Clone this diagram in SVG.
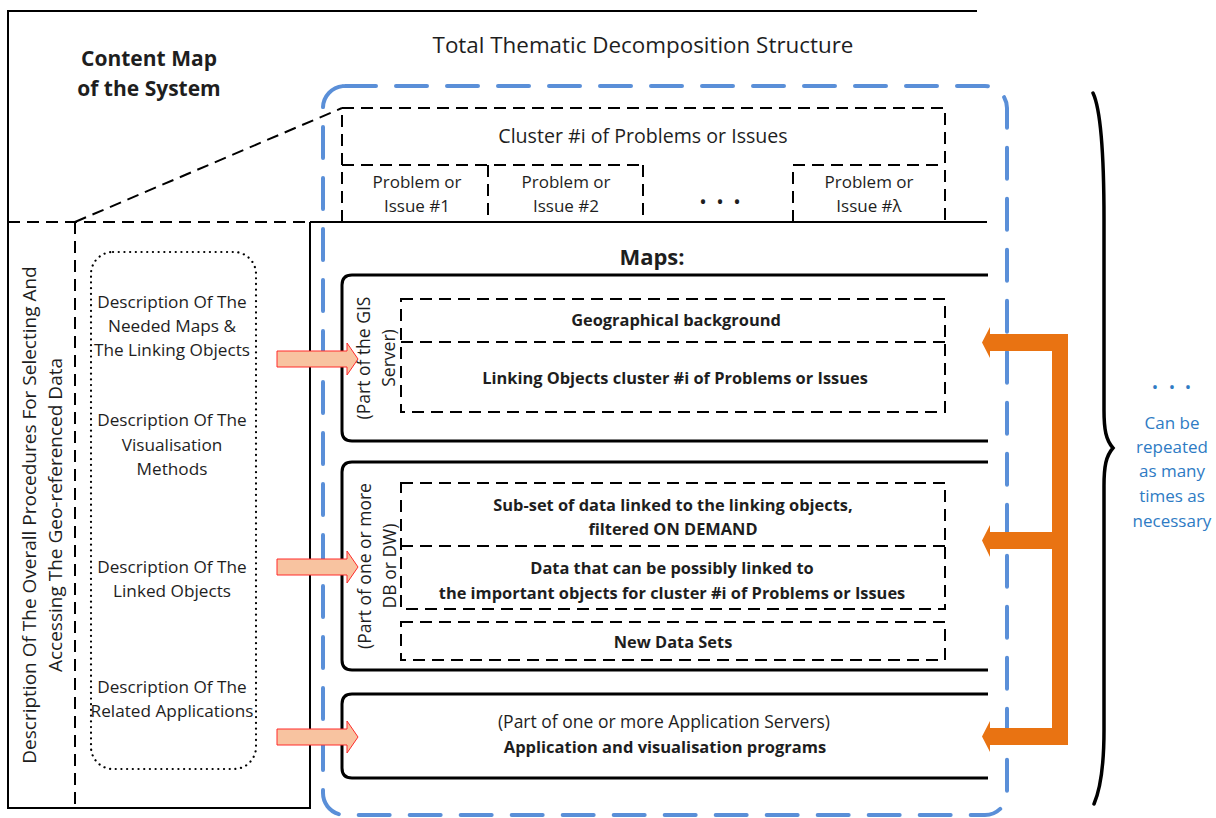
<svg xmlns="http://www.w3.org/2000/svg" width="1216" height="818" viewBox="0 0 1216 818">
  <style>
    .txt { font-family: "Open Sans", "Liberation Sans", sans-serif; fill: #1e1e1e; }
    .c { text-anchor: middle; }
    .b { font-weight: bold; }
    .solid { fill: none; stroke: #000; stroke-width: 2; }
    .box { fill: none; stroke: #000; stroke-width: 3; }
    .dash { fill: none; stroke: #000; stroke-width: 2; stroke-dasharray: 12 7; }
    .dot { fill: none; stroke: #000; stroke-width: 2.2; stroke-linecap: round; stroke-dasharray: 0.1 5.6; }
    .blue { fill: none; stroke: #5A8FD8; stroke-width: 4; stroke-linecap: round; stroke-dasharray: 31 20; }
    .pink { fill: #F8C3A0; stroke: #FF2A2A; stroke-width: 1; }
    .note { font-family: "Open Sans", "Liberation Sans", sans-serif; fill: #2E7BC4; text-anchor: middle; font-size: 17px; }
  </style>
  <defs>
    <path id="pinkArrow" d="M0 -8 L70 -8 L70 -16 L81 0 L70 16 L70 8 L0 8 Z"/>
  </defs>

  <rect width="1216" height="818" fill="#fff"/>

  <!-- Outer frame of the content map -->
  <g id="frame">
    <path class="solid" d="M977 11 L8 11 L8 808 L310 808 L310 222"/>
    <path class="dash" d="M8 222 L310 222"/>
    <path class="solid" d="M310 222 L987 222"/>
    <path class="dash" d="M75 222 L75 808"/>
    <path class="dash" d="M75 222 L342 108"/>
  </g>

  <!-- Headings -->
  <g id="titles">
    <text class="txt c" x="643" y="53" font-size="22.4">Total Thematic Decomposition Structure</text>
    <text class="txt c b" x="149" y="66" font-size="21">Content Map</text>
    <text class="txt c b" x="149" y="96" font-size="21">of the System</text>
  </g>

  <!-- Left: overall procedure description -->
  <g id="procedures">
    <text class="txt c" font-size="19" transform="translate(36 515) rotate(-90)">Description Of The Overall Procedures For Selecting And</text>
    <text class="txt c" font-size="19" transform="translate(62 515) rotate(-90)">Accessing The Geo-referenced Data</text>
  </g>

  <!-- Dotted description list -->
  <g id="descriptions">
    <rect class="dot" x="91" y="252" width="165" height="517" rx="22"/>
    <g class="txt c" font-size="17.2">
      <text x="172" y="308">Description Of The</text>
      <text x="172" y="332">Needed Maps &amp;</text>
      <text x="172" y="356">The Linking Objects</text>
      <text x="172" y="426">Description Of The</text>
      <text x="172" y="451">Visualisation</text>
      <text x="172" y="475">Methods</text>
      <text x="172" y="573">Description Of The</text>
      <text x="172" y="597">Linked Objects</text>
      <text x="172" y="693">Description Of The</text>
      <text x="172" y="717">Related Applications</text>
    </g>
  </g>

  <!-- Thematic decomposition container -->
  <g id="decomposition">
    <rect class="blue" x="323" y="86" width="684" height="729" rx="22"/>
  </g>

  <!-- Cluster of problems or issues -->
  <g id="cluster">
    <path class="dash" d="M342 222 L342 108 L945 108 L945 222"/>
    <path class="dash" d="M342 165 L643 165 M488 165 L488 222 M643 165 L643 222"/>
    <path class="dash" d="M793 222 L793 165 L945 165"/>
    <text class="txt c" x="643" y="143" font-size="19.6">Cluster #i of Problems or Issues</text>
    <g class="txt c" font-size="17">
      <text x="417" y="188">Problem or</text>
      <text x="417" y="212">Issue #1</text>
      <text x="566" y="188">Problem or</text>
      <text x="566" y="212">Issue #2</text>
      <text x="869" y="188">Problem or</text>
      <text x="869" y="212">Issue #λ</text>
      <text y="209" font-size="20"><tspan x="703">•</tspan><tspan x="720">•</tspan><tspan x="737">•</tspan></text>
    </g>
  </g>

  <text class="txt c b" x="652" y="265" font-size="22">Maps:</text>

  <!-- GIS server block -->
  <g id="gis">
    <path class="box" d="M988 275 L352 275 Q342 275 342 285 L342 431 Q342 441 352 441 L988 441"/>
    <path class="dash" d="M401 299 L945 299 L945 412 L401 412 Z M401 342 L945 342"/>
    <text class="txt c" font-size="17.5" transform="translate(370 358) rotate(-90)">(Part of the GIS</text>
    <text class="txt c" font-size="17.5" transform="translate(395 358) rotate(-90)">Server)</text>
    <text class="txt c b" x="676" y="326" font-size="16.4">Geographical background</text>
    <text class="txt c b" x="675" y="384" font-size="16.4">Linking Objects cluster #i of Problems or Issues</text>
  </g>

  <!-- Database / data warehouse block -->
  <g id="data">
    <path class="box" d="M988 462 L352 462 Q342 462 342 472 L342 660 Q342 670 352 670 L988 670"/>
    <path class="dash" d="M401 483 L945 483 L945 609 L401 609 Z M401 546 L945 546"/>
    <rect class="dash" x="401" y="622" width="544" height="38"/>
    <text class="txt c" font-size="17.5" transform="translate(371 566) rotate(-90)">(Part of one or more</text>
    <text class="txt c" font-size="17.5" transform="translate(396 566) rotate(-90)">DB or DW)</text>
    <g class="txt c b" font-size="16.4">
      <text x="673" y="511">Sub-set of data linked to the linking objects,</text>
      <text x="673" y="535">filtered ON DEMAND</text>
      <text x="672" y="574">Data that can be possibly linked to</text>
      <text x="672" y="599">the important objects for cluster #i of Problems or Issues</text>
      <text x="673" y="648">New Data Sets</text>
    </g>
  </g>

  <!-- Application server block -->
  <g id="applications">
    <path class="box" d="M988 694 L352 694 Q342 694 342 704 L342 768 Q342 778 352 778 L988 778"/>
    <text class="txt c" x="664" y="728" font-size="17.5">(Part of one or more Application Servers)</text>
    <text class="txt c b" x="665" y="753" font-size="16.5">Application and visualisation programs</text>
  </g>

  <!-- Connectors -->
  <g id="connectors">
    <use href="#pinkArrow" class="pink" x="277" y="359"/>
    <use href="#pinkArrow" class="pink" x="277" y="567"/>
    <use href="#pinkArrow" class="pink" x="277" y="737"/>
    <path fill="#E97312" d="M990 327 L982 342.5 L990 358 L990 351 L1052 351 L1052 532 L990 532 L990 525 L982 540.5 L990 557 L990 549 L1052 549 L1052 728 L990 728 L990 721 L982 736.5 L990 752 L990 745 L1068 745 L1068 334 L990 334 Z"/>
  </g>

  <!-- Repetition brace and note -->
  <g id="repeat">
    <path fill="none" stroke="#000" stroke-width="3.5" stroke-linecap="round" d="M1093 93 C1101 110 1104 150 1104 220 L1104 410 C1104 430 1106 440 1113 448 C1106 456 1104 466 1104 486 L1104 730 C1104 770 1100 790 1094 804"/>
    <text class="note" y="393" font-size="17"><tspan x="1155">•</tspan><tspan x="1172">•</tspan><tspan x="1188">•</tspan></text>
    <text class="note" x="1172" y="429">Can be</text>
    <text class="note" x="1172" y="453">repeated</text>
    <text class="note" x="1172" y="477">as many</text>
    <text class="note" x="1172" y="502">times as</text>
    <text class="note" x="1172" y="527">necessary</text>
  </g>
</svg>
